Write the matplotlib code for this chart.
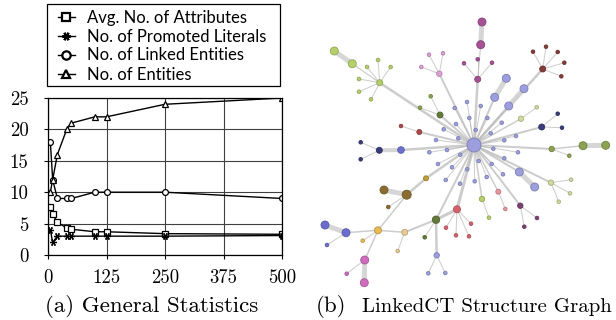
import matplotlib
matplotlib.use('Agg')
import matplotlib.pyplot as plt
from matplotlib.patches import Circle, Rectangle
from matplotlib.colors import to_rgb

# ---------------- (a) general statistics ----------------
sample_size = [5, 10, 20, 40, 50, 100, 125, 250, 500]
avg_attributes = [7.7, 6.5, 5.2, 4.3, 4.1, 3.7, 3.7, 3.4, 3.3]
promoted_literals = [4, 2, 3, 3, 3, 3, 3, 3, 3.1]
linked_entities = [18, 12, 9, 9, 9, 10, 10, 10, 9]
entities = [10, 12, 16, 20, 21, 22, 22, 24, 25]

series_labels = ['Avg. No. of Attributes', 'No. of Promoted Literals',
                 'No. of Linked Entities', 'No. of Entities']
x_ticks = [0, 125, 250, 375, 500]
y_ticks = [0, 5, 10, 15, 20, 25]

# ---------------- (b) structure graph (pixel layout) ----------------
node_x = [474,
          454.7, 467, 480.7, 469.3, 487.3, 456, 501.7, 443.7, 475.7, 490.7,
          436, 458.3, 516, 504.3, 447, 429.3, 493.3, 518, 460.3, 504.3,
          438, 478.7, 452, 491.7, 467.3, 503, 445.7, 460, 474.7, 486.7,
          379.7, 352.3, 334.3, 378, 390.7, 367, 359, 359, 371,
          439.3, 429, 443, 421.3,
          477.7, 464, 477.7, 492, 480.7, 482,
          542.7, 533, 546, 557.7, 564.3, 561.3,
          494.7, 506.3, 508.7, 524, 519.3, 534.7,
          521, 536.7, 551, 571, 570, 558.7,
          541.7, 557.7, 562,
          551.7, 569.3, 583, 605.7,
          498.3, 505.3,
          482, 489,
          520.3, 537, 524.3,
          457, 446, 456, 471, 469,
          436, 424.7, 436.7, 428.3, 445.3, 404.7, 397.7, 378, 362.7,
          346, 325, 327, 364.7, 364.3, 346.7,
          426, 406.7, 384, 388.3,
          401, 379.3, 360.7, 360.7,
          419.3, 401,
          440, 430.7, 420]
node_y = [145,
          108, 102, 106, 118, 118, 124, 122.7, 129.3, 130, 133.3,
          140, 138.3, 136, 140.3, 150, 152.3, 148.7, 152.3, 154.7, 158.3,
          164, 161, 167.3, 164, 169.3, 174.3, 180, 183.7, 181.3, 177,
          82.7, 63.7, 51, 60, 67, 67, 79, 91.7, 99.3,
          73.7, 54.7, 53.3, 67,
          79.3, 63.3, 59.3, 62.7, 44.7, 22,
          69, 51.7, 46.7, 52, 62.7, 76.3,
          97.3, 78.3, 106, 88.7, 172, 187,
          118.7, 107.3, 182.7, 179.7, 193.3, 201.7,
          127, 113.7, 127.7,
          149, 155.7, 145.7, 145.3,
          191.7, 209,
          199, 217.7,
          205.7, 218, 226.7,
          209.3, 227.7, 235.3, 223.7, 236.3,
          219.7, 237.3, 255.3, 273.3, 273, 232.3, 251, 230.3, 240.7,
          232.7, 225, 245, 260, 282.7, 273.7,
          178.3, 194.7, 190, 207,
          150, 150.3, 142.3, 159.3,
          132, 126,
          115, 96.3, 107.7]
node_r = [7] + [1.8] * 30 + [
          3, 4, 4, 1.8, 1.8, 1.8, 1.8, 1.8, 1.8,
          2.7, 1.8, 1.8, 1.8,
          3, 1.8, 1.8, 1.8, 4, 4,
          3, 1.8, 1.8, 1.8, 1.8, 1.8,
          4, 4, 4, 4, 4, 4,
          2.7, 1.8, 2.7, 1.8, 1.8, 1.8,
          3, 1.8, 1.8,
          2.7, 1.8, 4, 4,
          2.5, 1.8,
          2.7, 1.8,
          2.7, 1.8, 1.8,
          3.5, 1.8, 1.8, 1.8, 1.8,
          3.7, 1.8, 2.7, 1.8, 1.8, 3, 1.8, 3.5, 1.8,
          4, 4, 1.8, 4, 4, 1.8,
          2.5, 4.5, 4, 1.8,
          3.3, 3, 1.8, 1.8,
          2.5, 1.8,
          3, 1.8, 1.8]
node_color = ['#9c9ede'] * 31 + (
          ['#b5cf6b'] * 9 + ['#de9ed6'] * 4 + ['#a55194'] * 6 +
          ['#843c39'] * 6 + ['#9c9ede'] * 6 + ['#cedb9c'] * 6 +
          ['#393b79'] * 3 + ['#8ca252'] * 4 + ['#e7969c'] * 2 +
          ['#b5cf6b'] * 2 + ['#7b4173'] * 3 + ['#d6616b'] * 5 +
          ['#637939'] * 2 + ['#9c9ede'] * 3 + ['#e7cb94'] * 2 +
          ['#e7ba52'] * 2 + ['#6b6ecf'] * 3 + ['#ce6dbd'] * 3 +
          ['#bd9e39'] + ['#8c6d31'] * 3 +
          ['#6b6ecf'] + ['#393b79'] * 3 + ['#ad494a'] * 2 +
          ['#637939'] + ['#8ca252'] * 2)
node_parent = [-1] + [0] * 30 + [
          0, 31, 32, 31, 31, 31, 31, 31, 31,
          0, 40, 40, 40,
          0, 44, 44, 44, 44, 48,
          0, 50, 50, 50, 50, 50,
          0, 56, 0, 58, 0, 60,
          0, 62, 0, 64, 64, 64,
          0, 68, 68,
          0, 71, 71, 73,
          0, 75,
          0, 77,
          0, 79, 79,
          0, 82, 82, 82, 82,
          82, 87, 87, 89, 89, 87, 92, 92, 94,
          94, 96, 96, 94, 99, 99,
          0, 102, 103, 103,
          0, 106, 107, 107,
          0, 110,
          0, 112, 112]
link_width = [0] + [1] * 30 + [
          2.5, 1.2, 5, 1, 1, 1, 1, 1, 1,
          2, 1, 1, 1,
          2.5, 1, 1, 1, 1.2, 5,
          2.5, 1, 1, 1, 1, 1,
          2, 5, 2, 5, 2, 5,
          1.5, 1, 2, 1, 1, 1,
          2, 1, 1,
          2, 1, 1.5, 5,
          1.5, 1,
          1.5, 1,
          2, 1, 1,
          3, 1, 1, 1, 1,
          3, 1, 2.5, 1, 1, 2, 1, 1.5, 1,
          1.5, 5, 1, 1.5, 5, 1,
          2.5, 2.5, 5, 1,
          2.5, 4, 1, 1,
          2, 1,
          2, 1, 1]
extra_links = [(0, 87, 2), (103, 94, 1.5)]

W, H = 616, 320
PT = 72 / 100  # points per pixel

fig = plt.figure(figsize=(W / 100, H / 100), dpi=100)

# ---- left chart ----
ax = fig.add_axes([48 / W, 1 - 255 / H, (282 - 48) / W, (255 - 98) / H])
mk = dict(color='black', lw=1, mfc='white', mec='black', mew=0.9)
ax.plot(sample_size, avg_attributes, marker='s', ms=5, label=series_labels[0], **mk)
ax.plot(sample_size, promoted_literals, marker=(6, 2, 30), ms=5, label=series_labels[1], **mk)
ax.plot(sample_size, linked_entities, marker='o', ms=4.2, label=series_labels[2], **mk)
ax.plot(sample_size, entities, marker='^', ms=4.5, label=series_labels[3], **mk)
ax.set_xlim(0, 500)
ax.set_ylim(0, 25)
ax.set_xticks(x_ticks)
ax.set_yticks(y_ticks)
ax.grid(True, color='0.25', lw=0.8)
ax.set_axisbelow(True)
for s in ax.spines.values():
    s.set_linewidth(0.9)
ax.tick_params(length=3, width=0.8, labelsize=13.5)
ax.tick_params(axis='x', pad=7)
ax.tick_params(axis='y', pad=11)
for lab in ax.get_xticklabels() + ax.get_yticklabels():
    lab.set_fontfamily('cmr10')

# legend box drawn separately so the entries can sit inside it freely
fig.add_artist(Rectangle((47 / W, 1 - 86 / H), 233 / W, 82 / H,
                         transform=fig.transFigure, fill=False,
                         edgecolor='black', lw=0.9))
leg = ax.legend(loc='upper left', bbox_to_anchor=(58 / W, 1 - 9.5 / H),
                bbox_transform=fig.transFigure, frameon=False,
                handlelength=1.0, handletextpad=0.75, borderpad=0,
                labelspacing=0.18, borderaxespad=0,
                prop={'family': 'Lato', 'size': 12})
for h in leg.legend_handles:
    h.set_markeredgewidth(1.6)
    h.set_markersize(6)

fig.text(152 / W, 1 - 306 / H, '(a) General Statistics', ha='center', va='center',
         family='cmr10', size=16.5)
fig.text(316 / W, 1 - 306 / H, '(b)', ha='left', va='center', family='cmr10', size=16.5)
fig.text(362 / W, 1 - 307 / H, 'LinkedCT Structure Graph', ha='left', va='center',
         family='cmr10', size=15)

# ---- right graph ----
gx = fig.add_axes([300 / W, 0, (W - 300) / W, 1])
gx.set_xlim(300, W)
gx.set_ylim(H, 0)
gx.axis('off')


def link(a, b, w):
    thick = w >= 4
    gx.plot([node_x[a], node_x[b]], [node_y[a], node_y[b]],
            color='#d2d2d2' if thick else '#bcbcbc', lw=w * PT,
            alpha=0.9 if thick else 0.75, solid_capstyle='butt', zorder=1)


for i, p in enumerate(node_parent):
    if p >= 0:
        link(p, i, link_width[i])
for a, b, w in extra_links:
    link(a, b, w)

for x, y, r, c in zip(node_x, node_y, node_r, node_color):
    edge = tuple(v * 0.8 for v in to_rgb(c))
    gx.add_patch(Circle((x, y), r, facecolor=c, edgecolor=edge, lw=0.6, zorder=3))

fig.savefig('out.png', dpi=100)
